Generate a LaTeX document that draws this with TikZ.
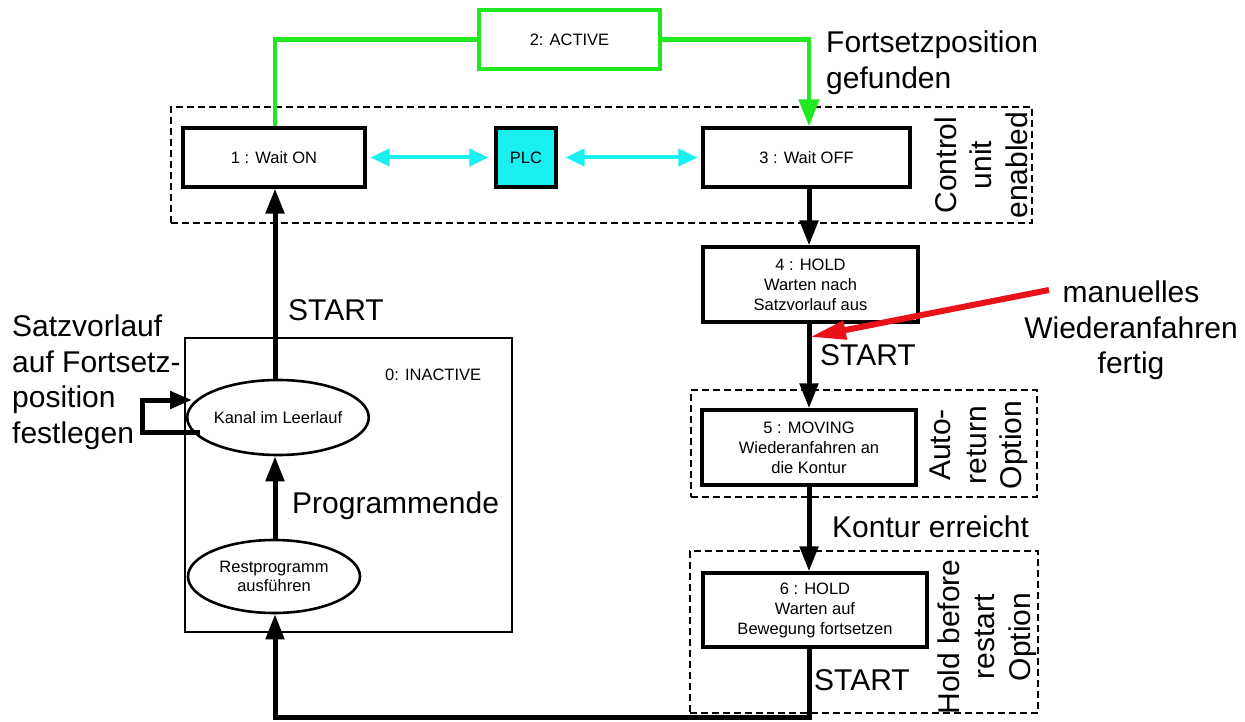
\documentclass[tikz,border=0pt]{standalone}
\usepackage{fontspec}
\setmainfont{Liberation Sans}
\usetikzlibrary{arrows.meta,shapes.geometric}
\definecolor{actgreen}{RGB}{34,232,34}
\definecolor{plccyan}{RGB}{24,240,240}
\definecolor{arrred}{RGB}{232,18,24}
\begin{document}
\begin{tikzpicture}[x=1pt,y=-1pt,
  small/.style={font=\fontsize{16.5}{20}\selectfont},
  big/.style={font=\fontsize{30}{35.5}\selectfont},
  statebox/.style={draw, line width=3.2pt, align=center, inner sep=0pt, small},
  stateoval/.style={ellipse, draw, line width=2.6pt, align=center, inner sep=0pt, small},
  grpbox/.style={draw, line width=1.4pt, dash pattern=on 7pt off 4pt, inner sep=0pt},
  flow/.style={line width=5pt, -{Triangle[length=25pt,width=18pt]}},
  greenflow/.style={draw=actgreen, line width=4.5pt},
  cyanarr/.style={draw=plccyan, line width=4pt,
    {Triangle[length=19pt,width=17pt]}-{Triangle[length=19pt,width=17pt]}},
  redarr/.style={draw=arrred, fill=arrred, line width=6pt,
    -{Triangle[length=36pt,width=18pt]}},
  lbl/.style={inner sep=0pt, align=left},
]
\useasboundingbox (0,0) rectangle (1245,722);

% column guides for the vertical flows
\coordinate (lc) at (275,0);
\coordinate (rc) at (809,0);
\coordinate (base) at (0,717);

% option groups (dashed frames)
\node[grpbox, minimum width=861, minimum height=116] (cue) at (601.5,165) {};
\node[grpbox, minimum width=346, minimum height=107] (autoret) at (864,443.5) {};
\node[grpbox, minimum width=348, minimum height=162] (holdopt) at (864,632) {};

% states
\node[statebox, draw=actgreen, minimum width=181, minimum height=59] (act) at (569.5,39.5) {2: ACTIVE};
\node[statebox, minimum width=182, minimum height=59] (won) at (274,157.5) {1 : Wait ON};
\node[statebox, fill=plccyan, minimum width=60, minimum height=59] (plc) at (526,157.5) {PLC};
\node[statebox, minimum width=207, minimum height=59] (woff) at (806.5,157.5) {3 : Wait OFF};
\node[statebox, minimum width=215, minimum height=75] (hold4) at (810.5,284.5) {4 : HOLD\\Warten nach\\Satzvorlauf aus};
\node[statebox, minimum width=214, minimum height=75] (mov) at (809,447.5) {5 : MOVING\\Wiederanfahren an\\die Kontur};
\node[statebox, minimum width=224, minimum height=74] (hold6) at (815,610) {6 : HOLD\\Warten auf\\Bewegung fortsetzen};

% inactive state with its sub-states
\node[draw, line width=2.6pt, minimum width=327, minimum height=294, inner sep=0pt] (inact) at (348.5,485) {};
\node[small, anchor=base west, inner sep=0pt] (inactlbl) at (385,380) {0: INACTIVE};
\node[stateoval, minimum width=168, minimum height=75] (kanal) at (278,417.5) {Kanal im Leerlauf};
\node[stateoval, minimum width=172, minimum height=73, font=\fontsize{16.5}{19}\selectfont] (rest) at (274,576.5) {Restprogramm\\ausführen};

% group captions
\node[big, rotate=90, align=center, inner sep=0pt] (cuelbl) at (981,165) {Control\\unit\\enabled};
\node[big, rotate=90, align=center, inner sep=0pt] (autolbl) at (979,445) {Auto-\\return\\Option};
\node[big, rotate=90, align=center, inner sep=0pt] (holdlbl) at (987,637) {Hold before\\restart\\Option};

% transition labels
\node[big, lbl, anchor=base west] (start1) at (288,320) {START};
\node[big, lbl, anchor=base west] (prog) at (292,513) {Programmende};
\node[big, lbl, anchor=base west] (start2) at (820,365) {START};
\node[big, lbl, anchor=base west] (kontur) at (832,537) {Kontur erreicht};
\node[big, lbl, anchor=base west] (start3) at (814,690) {START};
\node[big, lbl, anchor=north west] (satz) at (12,315) {Satzvorlauf\\auf Fortsetz-\\position\\festlegen};
\node[big, lbl, anchor=north west] (fpos) at (826,31) {Fortsetzposition\\gefunden};
\node[big, inner sep=0pt, align=center, anchor=north] (manu) at (1131,281) {manuelles\\Wiederanfahren\\fertig};

% green path through ACTIVE
\draw[greenflow] (won.north -| lc) |- (act.west);
\draw[greenflow, -{Triangle[length=27pt,width=20pt]}] (act.east) -| (woff.north -| rc);

% PLC handshakes
\draw[cyanarr, shorten <=4pt, shorten >=6pt] (won.east) -- (plc.west);
\draw[cyanarr, shorten <=8pt, shorten >=4pt] (plc.east) -- (woff.west);

% main sequence
\draw[flow] (woff.south -| rc) -- (hold4.north -| rc);
\draw[flow] (hold4.south -| rc) -- (mov.north -| rc);
\draw[flow] (mov.south -| rc) -- (hold6.north -| rc);
\draw[flow] (hold6.south -| rc) -- (rc |- base) -| (rest.south -| lc);
\draw[flow] (rest.north -| lc) -- (kanal.south -| lc);
\draw[flow] (kanal.north -| lc) -- (won.south -| lc);

% block search loop on the idle channel
\coordinate (loopx) at (142,400);
\draw[line width=5pt, -{Triangle[length=22pt,width=17pt]}]
  ([shift={(-78,14.5)}]kanal.center) -| (loopx) -- ([shift={(-86,-17.5)}]kanal.center);

% manual repositioning finished
\coordinate (mfrom) at (1049,290);
\coordinate (mto) at (810,337);
\draw[redarr] (mfrom) -- (mto);
\end{tikzpicture}
\end{document}
